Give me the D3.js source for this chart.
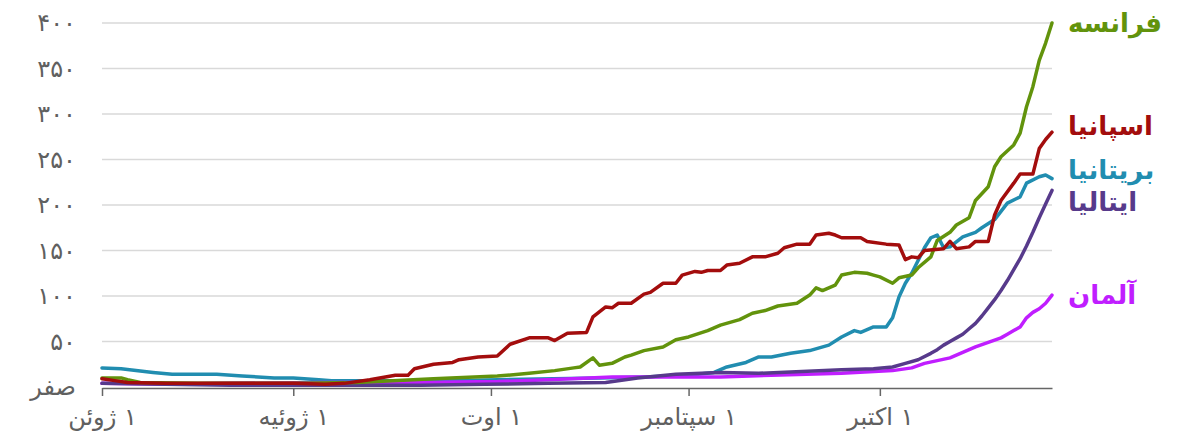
<!DOCTYPE html>
<html>
<head>
<meta charset="utf-8">
<script src="https://cdn.jsdelivr.net/npm/d3@7"></script>
<style>
  body { margin: 0; background: #fff; }
  text { font-family: "DejaVu Sans", sans-serif; }
</style>
</head>
<body>
<script>
// day offsets from 1 June, values per 100k
var startDate = new Date(2020, 5, 1);
var endDate = new Date(2020, 9, 28);

var france = [[0,10],[3,10],[4,8],[6,5],[15,4],[30,4],[40,5],[52,9],[62,12],[67,15],[71,18],[74,21],[75,22],[77,32],[78,24],[80,26],[82,33],[83,35],[85,40],[88,44],[90,52],[92,55],[95,62],[97,68],[100,74],[102,81],[104,84],[106,89],[109,92],[111,101],[112,109],[113,106],[115,112],[116,123],[118,126],[120,125],[121,123],[122,121],[124,114],[125,120],[127,123],[128,131],[130,143],[131,161],[133,170],[134,178],[136,186],[137,205],[139,220],[140,242],[141,253],[143,266],[144,279],[145,308],[146,330],[147,359],[148,378],[149,400]];
var spain = [[0,9],[2,7],[4,5],[10,4],[20,4],[30,4],[35,3],[38,4],[42,8],[46,13],[48,13],[49,20],[52,25],[55,27],[56,30],[59,33],[62,34],[64,47],[67,54],[70,54],[71,51],[73,59],[76,60],[77,77],[79,88],[80,87],[81,92],[83,92],[85,102],[86,104],[88,114],[90,114],[91,123],[93,127],[94,126],[95,128],[97,128],[98,134],[100,136],[102,143],[104,143],[106,147],[107,153],[109,157],[111,157],[112,167],[114,169],[115,167],[116,164],[119,164],[120,160],[123,157],[125,156],[126,140],[127,143],[128,142],[129,150],[132,152],[133,160],[134,152],[136,154],[137,160],[139,160],[140,189],[141,205],[143,224],[144,234],[146,234],[147,262],[148,272],[149,280]];
var uk = [[0,21],[3,20],[8,16],[11,14],[18,14],[22,12],[27,10],[30,10],[34,8],[36,7],[45,7],[55,7],[62,8],[78,10],[85,11],[92,13],[96,16],[98,22],[101,27],[103,33],[105,33],[108,37],[111,40],[114,46],[116,55],[118,62],[119,60],[121,66],[123,66],[124,76],[125,99],[126,114],[127,125],[129,153],[130,164],[131,167],[132,153],[133,154],[135,165],[137,170],[138,175],[140,184],[142,202],[144,209],[145,224],[147,231],[148,233],[149,229]];
var italy = [[0,4],[10,3],[20,2],[35,2],[50,2],[60,3],[70,4],[79,5],[84,10],[90,14],[97,16],[103,15],[116,19],[121,20],[124,22],[126,26],[128,30],[130,37],[131,41],[132,46],[133,50],[134,54],[135,58],[136,64],[137,70],[138,78],[139,87],[140,96],[141,106],[142,117],[143,129],[144,141],[145,155],[146,170],[147,186],[148,201],[149,216]];
var germany = [[0,4],[10,3],[20,4],[35,5],[50,5],[62,6],[70,8],[80,11],[90,11],[97,11],[105,13],[116,15],[124,18],[127,21],[129,26],[131,29],[133,32],[135,38],[137,44],[139,49],[141,54],[142,58],[143,62],[144,66],[145,76],[146,82],[147,86],[148,92],[149,101]];

var countryNames = ["فرانسه", "اسپانیا", "بریتانیا", "ایتالیا", "آلمان"];
var countryColors = ["#62930c", "#a30d0d", "#218db0", "#573a8b", "#c01eff"];
var labelNudge = [0, -6, -9, 11, 0];

var yTicks = [0, 50, 100, 150, 200, 250, 300, 350, 400];
var yTickLabels = ["صفر", "۵۰", "۱۰۰", "۱۵۰", "۲۰۰", "۲۵۰", "۳۰۰", "۳۵۰", "۴۰۰"];
var xTicks = [new Date(2020, 5, 1), new Date(2020, 6, 1), new Date(2020, 7, 1), new Date(2020, 8, 1), new Date(2020, 9, 1)];
var xTickLabels = ["۱ ژوئن", "۱ ژوئیه", "۱ اوت", "۱ سپتامبر", "۱ اکتبر"];

var series = [france, spain, uk, italy, germany];

var width = 1183, height = 439;
var svg = d3.select("body").append("svg")
  .attr("width", width)
  .attr("height", height);

var x = d3.scaleTime().domain([startDate, endDate]).range([102, 1052]);
var y = d3.scaleLinear().domain([0, 400]).range([387, 23]);

function dayToDate(d) {
  return d3.timeDay.offset(startDate, d);
}

// gridlines
svg.append("g")
  .selectAll("line")
  .data(yTicks.slice(1))
  .enter()
  .append("line")
  .attr("x1", 102)
  .attr("x2", 1052)
  .attr("y1", d => y(d))
  .attr("y2", d => y(d))
  .attr("stroke", "#d9d9d9")
  .attr("stroke-width", 1.5);

// y labels
svg.append("g")
  .selectAll("text")
  .data(yTicks)
  .enter()
  .append("text")
  .attr("x", 76)
  .attr("y", d => y(d))
  .attr("dy", "0.35em")
  .attr("text-anchor", "end")
  .attr("fill", "#606060")
  .style("font-size", "24px")
  .text((d, i) => yTickLabels[i]);

// x axis
var xAxis = d3.axisBottom(x)
  .tickValues(xTicks)
  .tickSize(8)
  .tickSizeOuter(0)
  .tickFormat((d, i) => xTickLabels[i]);

var gx = svg.append("g")
  .attr("transform", "translate(0,388)")
  .call(xAxis);
gx.select(".domain").attr("stroke", "#666").attr("stroke-width", 1.5);
gx.selectAll(".tick line").attr("stroke", "#666").attr("stroke-width", 1.5);
gx.selectAll(".tick text")
  .attr("fill", "#606060")
  .attr("direction", "rtl")
  .attr("dy", "1.1em")
  .style("font-size", "24px")
  .style("font-family", "DejaVu Sans, sans-serif");

// lines
var line = d3.line()
  .x(d => x(dayToDate(d[0])))
  .y(d => y(d[1]));

// draw in order so that lower series sit on top like the picture
var drawOrder = [2, 4, 3, 0, 1];
drawOrder.forEach(function(i) {
  svg.append("path")
    .datum(series[i])
    .attr("fill", "none")
    .attr("stroke", countryColors[i])
    .attr("stroke-width", 3.5)
    .attr("stroke-linejoin", "round")
    .attr("stroke-linecap", "round")
    .attr("d", line);
});

// labels at line ends
series.forEach(function(s, i) {
  var last = s[s.length - 1];
  svg.append("text")
    .attr("x", 1068)
    .attr("y", y(last[1]) + labelNudge[i])
    .attr("dy", "0.35em")
    .attr("fill", countryColors[i])
    .style("font-size", "26px")
    .style("font-weight", "bold")
    .text(countryNames[i]);
});
</script>
</body>
</html>
